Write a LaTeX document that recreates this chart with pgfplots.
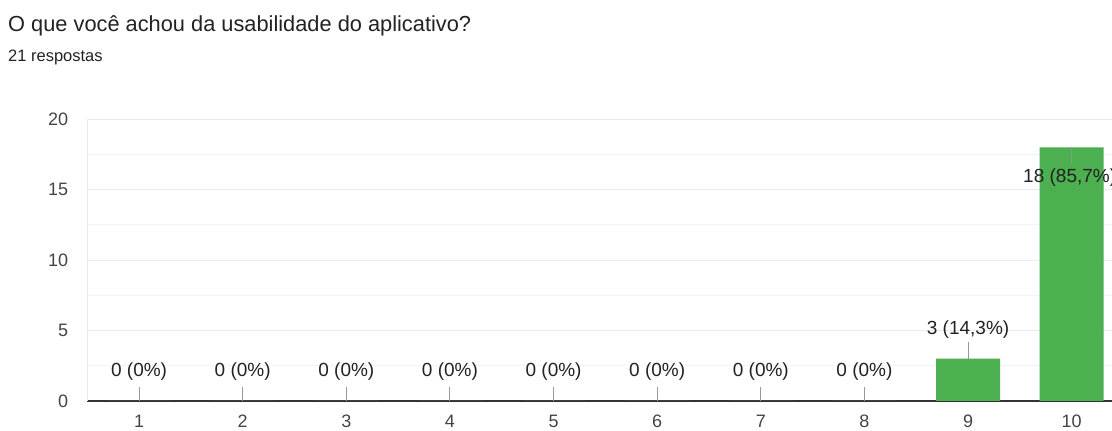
\documentclass[border=0pt]{standalone}
\usepackage{fontspec}
\setmainfont{Liberation Sans}
\usepackage{pgfplots}
\pgfplotsset{compat=1.18}
\definecolor{bargreen}{HTML}{4CAF50}
\definecolor{gridmaj}{HTML}{EBEBEB}
\definecolor{gridmin}{HTML}{F4F4F4}
\definecolor{axisdark}{HTML}{333333}
\definecolor{txt}{HTML}{222222}
\definecolor{ticktxt}{HTML}{444444}
\definecolor{lead}{HTML}{999999}
\begin{document}
\begin{tikzpicture}
\fontsize{18pt}{21pt}\selectfont
\begin{axis}[
  at={(87.3pt,30pt)}, anchor=south west,
  scale only axis, width=1024.7pt, height=281.7pt,
  xmin=0.5, xmax=10.39, ymin=0, ymax=20,
  xtick={1,...,10}, ytick={0,5,10,15,20},
  minor ytick={2.5,7.5,12.5,17.5},
  ymajorgrids, yminorgrids,
  major grid style={gridmaj, line width=1pt},
  minor grid style={gridmin, line width=1pt},
  axis x line*=bottom,
  axis y line*=left,
  x axis line style={axisdark, line width=1.5pt, -},
  y axis line style={gridmaj, line width=1pt, -},
  major tick length=0pt, minor tick length=0pt,
  tick style={draw=none},
  ticklabel style={font=\fontsize{18pt}{21pt}\selectfont, text=ticktxt},
  xticklabel style={yshift=-8pt},
  yticklabel style={xshift=-13pt},
  /pgf/number format/assume math mode=true,
  clip=false,
]
\addplot[ybar, bar width=64pt, fill=bargreen, draw=none] coordinates {
  (1,0) (2,0) (3,0) (4,0) (5,0) (6,0) (7,0) (8,0) (9,3) (10,18)
};
% leader lines above (zero bars and bar 9)
\addplot[draw=none, mark=none, forget plot,
  error bars/.cd, y dir=plus, y explicit, error mark=none,
  error bar style={lead, line width=1pt}] coordinates {
  (1,0) +- (0,1.0) (2,0) +- (0,1.0) (3,0) +- (0,1.0) (4,0) +- (0,1.0)
  (5,0) +- (0,1.0) (6,0) +- (0,1.0) (7,0) +- (0,1.0) (8,0) +- (0,1.0)
  (9,3) +- (0,1.2)
};
% leader line inside bar 10
\addplot[draw=none, mark=none, forget plot,
  error bars/.cd, y dir=minus, y explicit, error mark=none,
  error bar style={lead!60!bargreen, line width=1pt}] coordinates {
  (10,18) +- (0,1.2)
};
% labels above
\addplot[draw=none, mark=none, forget plot,
  point meta=explicit symbolic,
  nodes near coords,
  every node near coord/.style={anchor=center, yshift=29pt, text=txt,
    font=\fontsize{19pt}{22pt}\selectfont, inner sep=0pt}] coordinates {
  (1,0) [0 (0\%)] (2,0) [0 (0\%)] (3,0) [0 (0\%)] (4,0) [0 (0\%)]
  (5,0) [0 (0\%)] (6,0) [0 (0\%)] (7,0) [0 (0\%)] (8,0) [0 (0\%)]
  (9,3) [3 (14,3\%)]
};
% label inside bar 10
\addplot[draw=none, mark=none, forget plot,
  point meta=explicit symbolic,
  nodes near coords,
  every node near coord/.style={anchor=center, yshift=-30pt, xshift=-2pt, text=txt,
    font=\fontsize{19pt}{22pt}\selectfont, inner sep=0pt}] coordinates {
  (10,18) [18 (85,7\%)]
};
\end{axis}
\node[anchor=base west, inner sep=0pt, text=txt] at (8pt,399pt)
  {\fontsize{21.8pt}{25pt}\selectfont O que você achou da usabilidade do aplicativo?};
\node[anchor=base west, inner sep=0pt, text=txt] at (8pt,369pt)
  {\fontsize{16.5pt}{19pt}\selectfont 21 respostas};
\pgfresetboundingbox
\path[use as bounding box] (0,0) rectangle (1112pt,431pt);
\end{tikzpicture}
\end{document}
